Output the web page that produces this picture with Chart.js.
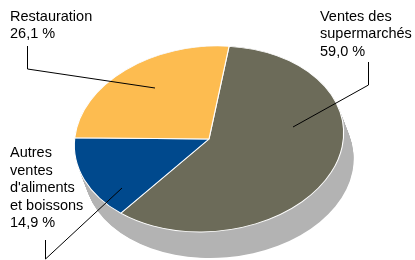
<!DOCTYPE html>
<html><head><meta charset="utf-8">
<script src="https://cdn.jsdelivr.net/npm/chart.js@4.4.1/dist/chart.umd.min.js"></script>
<style>html,body{margin:0;padding:0;background:#fff;overflow:hidden}#wrap{width:415px;height:260px;position:relative}</style>
</head><body><div id="wrap"><canvas id="c" width="415" height="260"></canvas></div>
<script>
// ---- data ----
const categories = ["Ventes des supermarchés", "Autres ventes d'aliments et boissons", "Restauration"];
const shares = [59.0, 14.9, 26.1];
const valueLabels = ["59,0 %", "14,9 %", "26,1 %"];
const nameLines = [["Ventes des", "supermarchés"], ["Autres", "ventes", "d'aliments", "et boissons"], ["Restauration"]];

// ---- style / layout ----
const colors = ["#6C6B59", "#00498D", "#FDBC50"];
const SIDE = "#B3B3B3";
const view = { sx: 135.5 / 120, sy: 93 / 120, tilt: -5, depthX: 10, depthY: 26 };
const FONT = "14.5px 'Liberation Sans', Arial, sans-serif";
const LINE_H = 17.6;
const labelLayout = [
  { x: 320, y: 20.5, leader: [[368.5, 62], [368.5, 85], [293, 127]] },
  { x: 10, y: 157, leader: [[45.5, 240], [45.5, 259], [122, 188]] },
  { x: 10, y: 20.5, leader: [[27.5, 46], [27.5, 69], [155, 88]] }
];

const tiltPlugin = {
  id: 'tilt',
  beforeDatasetsDraw(chart) {
    const ctx = chart.ctx;
    const arc = chart.getDatasetMeta(0).data[0];
    const { x, y, outerRadius } = arc;
    ctx.save();
    ctx.fillStyle = SIDE;
    const steps = 40;
    for (let i = 0; i <= steps; i++) {
      ctx.save();
      ctx.translate(x + view.depthX * i / steps, y + view.depthY * i / steps);
      ctx.rotate(view.tilt * Math.PI / 180);
      ctx.scale(view.sx, view.sy);
      ctx.beginPath(); ctx.arc(0, 0, outerRadius, 0, Math.PI * 2); ctx.fill();
      ctx.restore();
    }
    ctx.restore();
    ctx.save();
    ctx.translate(x, y);
    ctx.rotate(view.tilt * Math.PI / 180);
    ctx.scale(view.sx, view.sy);
    ctx.translate(-x, -y);
  },
  afterDatasetsDraw(chart) { chart.ctx.restore(); }
};

const labelPlugin = {
  id: 'pieLabels',
  afterDraw(chart) {
    const ctx = chart.ctx;
    ctx.save();
    ctx.font = FONT;
    ctx.fillStyle = "#000";
    ctx.textBaseline = "alphabetic";
    ctx.textAlign = "left";
    categories.forEach((c, i) => {
      const L = labelLayout[i];
      const lines = nameLines[i].concat([valueLabels[i]]);
      lines.forEach((t, k) => ctx.fillText(t, L.x, L.y + k * LINE_H));
      ctx.beginPath();
      ctx.strokeStyle = "#000";
      ctx.lineWidth = 1;
      L.leader.forEach((p, k) => k ? ctx.lineTo(p[0], p[1]) : ctx.moveTo(p[0], p[1]));
      ctx.stroke();
    });
    ctx.restore();
  }
};

new Chart(document.getElementById('c'), {
  type: 'pie',
  data: {
    labels: categories,
    datasets: [{ data: shares, backgroundColor: colors, borderColor: "#fff", borderWidth: 1 }]
  },
  options: {
    responsive: false,
    animation: false,
    events: [],
    rotation: 12,
    layout: { padding: { top: 19, bottom: 1, left: 89, right: 86 } },
    plugins: { legend: { display: false }, tooltip: { enabled: false } }
  },
  plugins: [tiltPlugin, labelPlugin]
});
</script></body></html>
